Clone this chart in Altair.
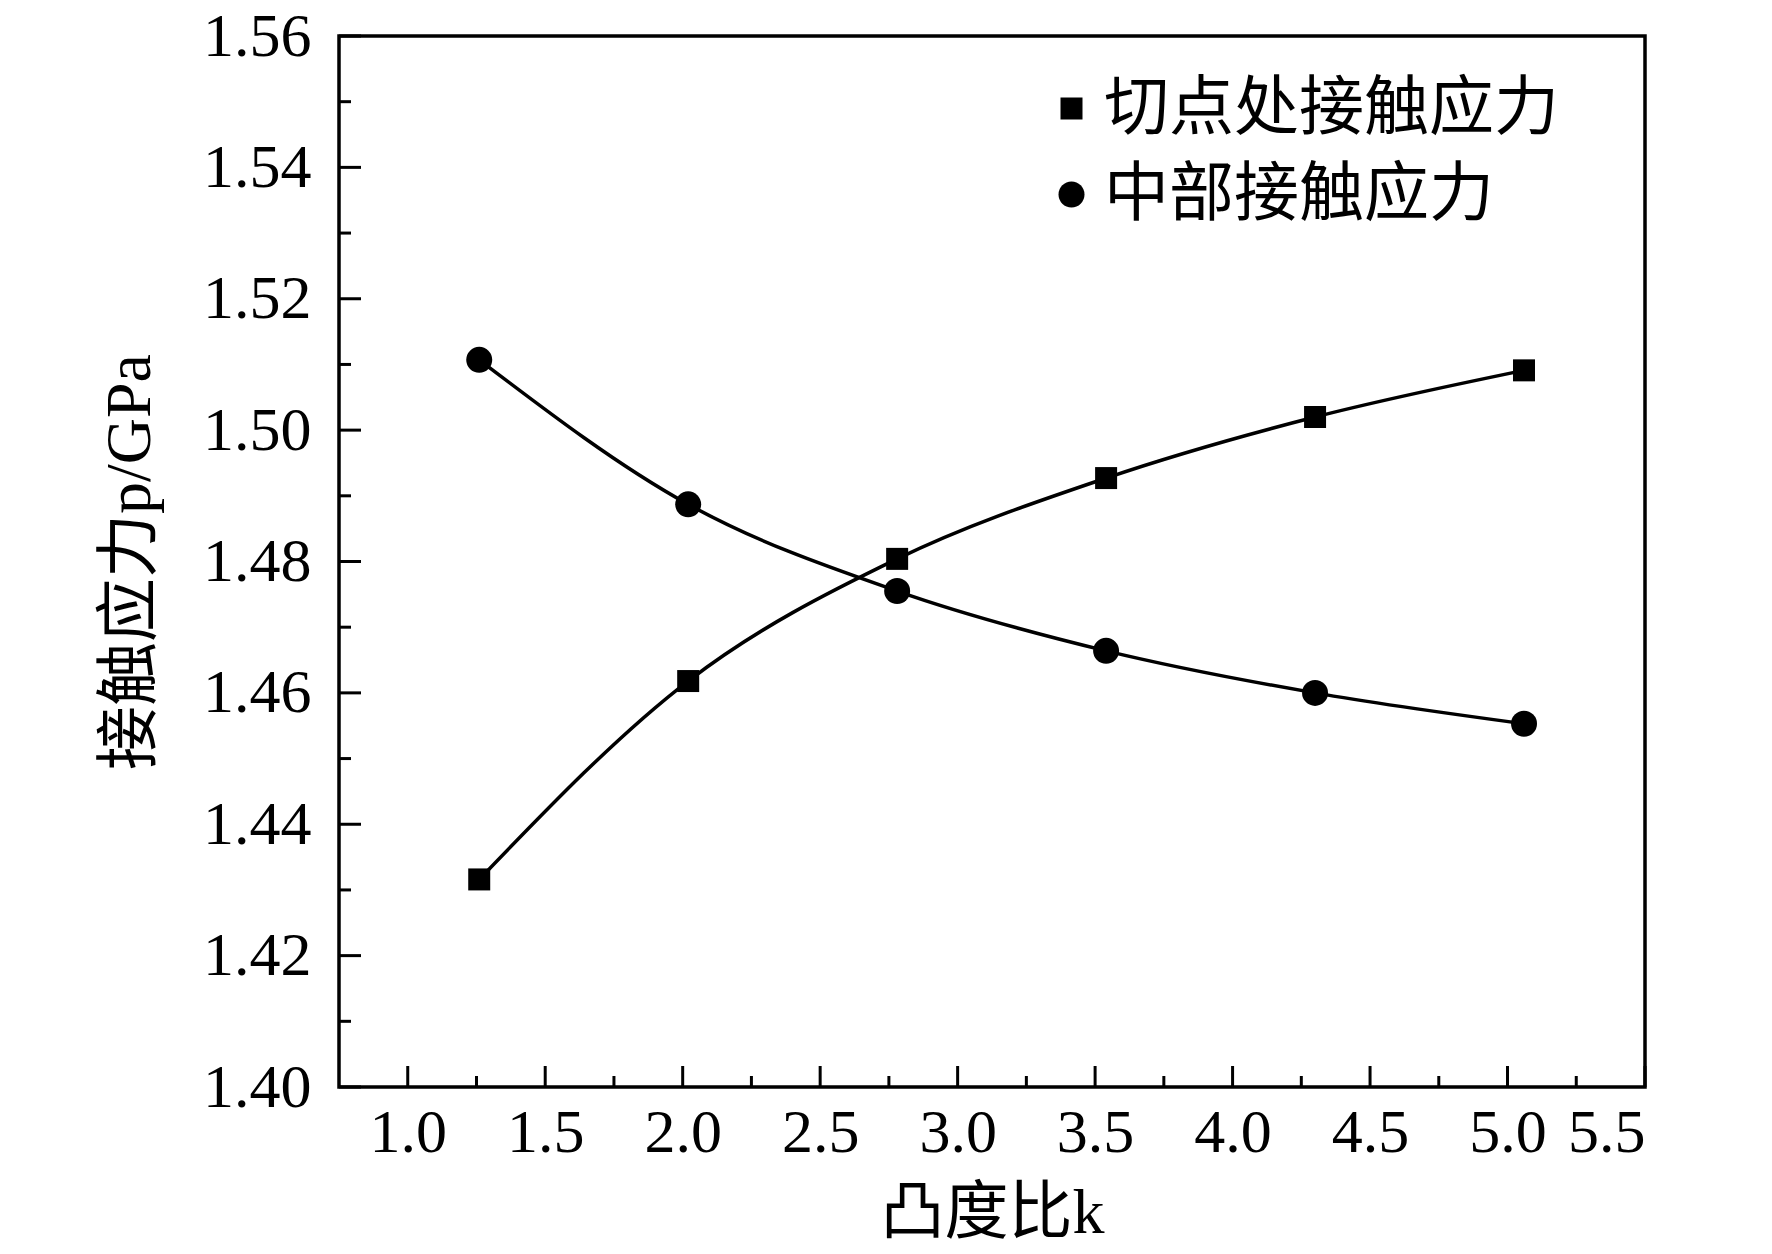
import altair as alt
import pandas as pd

k_values = [1.26, 2.02, 2.78, 3.54, 4.30, 5.06]
tangent_stress = [1.4316, 1.4618, 1.4804, 1.4927, 1.5020, 1.5091]
middle_stress = [1.5107, 1.4887, 1.4755, 1.4664, 1.4600, 1.4553]
series_names = ["切点处接触应力", "中部接触应力"]

x_major = [1.0, 1.5, 2.0, 2.5, 3.0, 3.5, 4.0, 4.5, 5.0, 5.5]
x_minor = [1.25, 1.75, 2.25, 2.75, 3.25, 3.75, 4.25, 4.75, 5.25]
y_major = [1.40, 1.42, 1.44, 1.46, 1.48, 1.50, 1.52, 1.54, 1.56]
y_minor = [1.41, 1.43, 1.45, 1.47, 1.49, 1.51, 1.53, 1.55]

rows = []
for k, a, b in zip(k_values, tangent_stress, middle_stress):
    rows.append({"k": k, "p": a, "s": series_names[0]})
    rows.append({"k": k, "p": b, "s": series_names[1]})
df = pd.DataFrame(rows)

W, H = 1306, 1051
FONT = "Liberation Serif, Noto Sans CJK SC"

xs = alt.Scale(domain=[0.75, 5.5], nice=False, zero=False)
ys = alt.Scale(domain=[1.40, 1.56], nice=False, zero=False)

base = alt.Chart(df)

line = base.mark_line(interpolate="monotone", color="black", strokeWidth=3.5).encode(
    x=alt.X("k:Q", scale=xs, title="凸度比k",
            axis=alt.Axis(values=x_major, format=".1f", labelPadding=15, titlePadding=18)),
    y=alt.Y("p:Q", scale=ys, title="接触应力p/GPa",
            axis=alt.Axis(values=y_major, format=".2f", labelPadding=28, titlePadding=40)),
    detail="s:N",
)

leg = alt.Legend(title=None, orient="none", legendX=700, legendY=40)

points = base.mark_point(filled=True, opacity=1, color="black").encode(
    x=alt.X("k:Q", scale=xs),
    y=alt.Y("p:Q", scale=ys),
    shape=alt.Shape("s:N", scale=alt.Scale(domain=series_names, range=["square", "circle"]),
                    legend=leg),
    size=alt.Size("s:N", scale=alt.Scale(domain=series_names, range=[484, 676]), legend=leg),
)

ymaj = alt.Chart(pd.DataFrame({"v": y_major})).mark_rule(color="black", strokeWidth=3).encode(
    y=alt.Y("v:Q", scale=ys), x=alt.value(0), x2=alt.value(22))
ymin = alt.Chart(pd.DataFrame({"v": y_minor})).mark_rule(color="black", strokeWidth=3).encode(
    y=alt.Y("v:Q", scale=ys), x=alt.value(0), x2=alt.value(12))
xmaj = alt.Chart(pd.DataFrame({"v": x_major})).mark_rule(color="black", strokeWidth=3).encode(
    x=alt.X("v:Q", scale=xs), y=alt.value(H), y2=alt.value(H - 21))
xmin = alt.Chart(pd.DataFrame({"v": x_minor})).mark_rule(color="black", strokeWidth=3).encode(
    x=alt.X("v:Q", scale=xs), y=alt.value(H), y2=alt.value(H - 11))

chart = alt.layer(line, points, ymaj, ymin, xmaj, xmin).properties(
    width=W, height=H,
    padding={"left": 331, "top": 28, "right": 110, "bottom": 159},
    autosize=alt.AutoSizeParams(type="none"),
    background="white",
).configure_view(
    stroke="black", strokeWidth=3.5
).configure_axis(
    ticks=False, domain=False, grid=False,
    labelFontSize=62, labelFont=FONT, labelColor="black",
    titleFontSize=64, titleFont=FONT, titleFontWeight="normal", titleColor="black",
).configure_legend(
    labelFontSize=65, labelFont=FONT, labelColor="black", labelLimit=0,
    symbolFillColor="black", symbolStrokeColor="black",
    symbolStrokeWidth=0, labelOffset=0, rowPadding=20, padding=0,
)

chart.save("out.html", embed_options={"renderer": "svg", "actions": False})
